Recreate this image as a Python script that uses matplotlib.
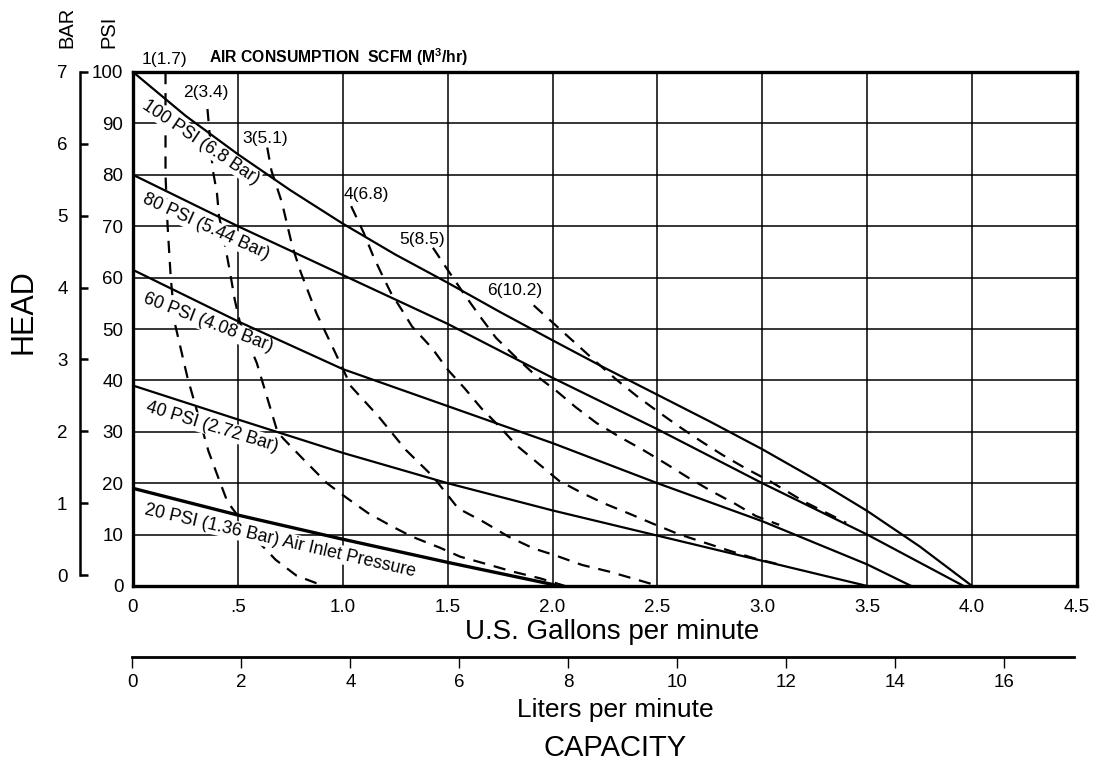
import numpy as np
import matplotlib.pyplot as plt

plt.rcParams['font.family'] = ['Liberation Sans', 'DejaVu Sans']
plt.rcParams['mathtext.fontset'] = 'custom'
plt.rcParams['mathtext.rm'] = 'Liberation Sans'
plt.rcParams['mathtext.bf'] = 'Liberation Sans:bold'

W, H = 1104, 763

# pump curves, gpm vs psi head
gpm_100 = [0, 0.25, 0.5, 0.75, 1.0, 1.25, 1.5, 1.75, 2.0, 2.25, 2.5, 2.75, 3.0, 3.25, 3.5, 3.75, 4.0]
psi_100 = [100, 91.5, 84, 77, 70.5, 64.5, 59, 53.3, 47.8, 42.4, 37.2, 32, 26.6, 20.8, 14.6, 7.7, 0]
gpm_80 = [0, 0.5, 1.0, 1.5, 2.0, 2.5, 3.0, 3.5, 3.96]
psi_80 = [80, 70, 60.5, 51, 40.5, 30.5, 20, 10, 0]
gpm_60 = [0, 0.5, 1.0, 1.5, 2.0, 2.5, 3.0, 3.5, 3.71]
psi_60 = [61.5, 51.5, 42.2, 35, 27.8, 20, 12.6, 4.2, 0]
gpm_40 = [0, 0.5, 1.0, 1.5, 2.0, 2.5, 3.0, 3.5]
psi_40 = [39, 32.4, 25.9, 20, 14.7, 9.8, 4.9, 0]
gpm_20 = [0, 0.5, 1.0, 1.5, 2.0, 2.02]
psi_20 = [19, 13.8, 9.1, 4.6, 0.3, 0]

# air consumption lines
air1_gpm = [0.155, 0.155, 0.165, 0.18, 0.2, 0.22, 0.26, 0.36, 0.41, 0.45, 0.49, 0.57, 0.68, 0.78, 0.91]
air1_psi = [100, 80, 70, 60, 51, 47.5, 40.5, 26.2, 20.7, 16.4, 14.2, 9.8, 5.1, 2.0, 0]
air2_gpm = [0.355, 0.38, 0.40, 0.41, 0.44, 0.46, 0.485, 0.51, 0.59, 0.69, 0.83, 0.925, 1.02, 1.12,
            1.23, 1.33, 1.46, 1.56, 1.70, 1.81, 1.94, 2.06]
air2_psi = [92.8, 81, 76.5, 72, 66, 61.6, 55.7, 51.2, 43.4, 29.8, 23.9, 20, 17.1, 14.2,
            11.7, 9.6, 7.5, 5.7, 4.1, 2.8, 1.5, 0]
air3_gpm = [0.64, 0.66, 0.71, 0.76, 0.80, 0.875, 0.95, 1.04, 1.17, 1.30, 1.43, 1.55, 1.67, 1.79,
            1.91, 2.01, 2.14, 2.27, 2.38, 2.505]
air3_psi = [85.3, 80.8, 74.6, 66, 61, 53, 46.6, 38.8, 33, 26.5, 21.3, 15.1, 12.5, 9.6,
            7.3, 6.0, 4.1, 2.8, 1.5, 0]
air4_gpm = [1.04, 1.10, 1.145, 1.19, 1.23, 1.28, 1.33, 1.425, 1.50, 1.58, 1.66, 1.745, 1.83, 1.93,
            2.03, 2.14, 2.25, 2.37, 2.48, 2.60, 2.72, 2.84, 2.96, 3.1]
air4_psi = [73.9, 68.7, 64.2, 60.3, 57, 53.8, 50.5, 46.3, 42.1, 38.5, 34.6, 31.1, 27.3, 23.9,
            20.5, 18.1, 16.0, 14.0, 12.1, 10.1, 8.5, 6.9, 5.4, 4.0]
air5_gpm = [1.43, 1.5, 1.58, 1.655, 1.73, 1.82, 1.91, 2.02, 2.11, 2.21, 2.32, 2.43, 2.54, 2.65,
            2.76, 2.87, 2.97, 3.08]
air5_psi = [65.8, 61.5, 56.7, 52.4, 48.3, 44.7, 41.3, 37.9, 34.8, 31.7, 29.0, 26.5, 23.8, 21.0,
            18.4, 16.0, 13.6, 11.9]
air6_gpm = [1.91, 2.01, 2.11, 2.21, 2.30, 2.40, 2.50, 2.60, 2.71, 2.81, 2.92, 3.04, 3.2, 3.4]
air6_psi = [54.6, 50.9, 47.2, 43.5, 40.3, 37.0, 34.0, 31.1, 28.1, 25.5, 22.9, 20.3, 16.4, 12.3]

air_labels = ['1(1.7)', '2(3.4)', '3(5.1)', '4(6.8)', '5(8.5)', '6(10.2)']
air_label_gpm = [0.15, 0.345, 0.63, 1.11, 1.38, 1.82]
air_label_psi = [102.4, 96, 87, 76.2, 67.5, 57.4]

curve_labels = ['100 PSI (6.8 Bar)', '80 PSI (5.44 Bar)', '60 PSI (4.08 Bar)',
                '40 PSI (2.72 Bar)', '20 PSI (1.36 Bar) Air Inlet Pressure']
curve_label_gpm = [0.324, 0.346, 0.358, 0.379, 0.701]
curve_label_psi = [86.4, 69.9, 51.2, 31.0, 8.85]
curve_label_rot = [-34, -24.5, -21, -17, -13]

gpm_ticks = [0, 0.5, 1.0, 1.5, 2.0, 2.5, 3.0, 3.5, 4.0, 4.5]
gpm_ticklabels = ['0', '.5', '1.0', '1.5', '2.0', '2.5', '3.0', '3.5', '4.0', '4.5']
psi_ticks = list(range(0, 101, 10))
bar_ticks = list(range(0, 8))
lpm_ticks = list(range(0, 17, 2))

fig = plt.figure(figsize=(W / 100, H / 100), dpi=100)

def fx(px):
    return px / W

def fy(py):
    return 1 - py / H

# main chart
ax = fig.add_axes([fx(133), fy(586), fx(1077) - fx(133), fy(72) - fy(586)])
ax.set_xlim(0, 4.5)
ax.set_ylim(0, 100)
ax.set_xticks(gpm_ticks)
ax.set_xticklabels(gpm_ticklabels)
ax.set_yticks(psi_ticks)
ax.tick_params(length=0, labelsize=13.5, pad=7)
ax.tick_params(axis='x', pad=9)
ax.grid(True, color='black', lw=1.1)
ax.set_axisbelow(True)
for s in ax.spines.values():
    s.set_linewidth(2.4)

solid = [(gpm_100, psi_100, 1.6), (gpm_80, psi_80, 1.6), (gpm_60, psi_60, 1.6),
         (gpm_40, psi_40, 1.6), (gpm_20, psi_20, 2.4)]
for g, p, lw in solid:
    ax.plot(g, p, color='black', lw=lw, zorder=5, solid_capstyle='butt')

dashed = [(air1_gpm, air1_psi), (air2_gpm, air2_psi), (air3_gpm, air3_psi),
          (air4_gpm, air4_psi), (air5_gpm, air5_psi), (air6_gpm, air6_psi)]
for g, p in dashed:
    ax.plot(g, p, color='black', lw=1.6, ls=(0, (5.5, 4)), zorder=3)

for t, x, y in zip(air_labels, air_label_gpm, air_label_psi):
    ax.text(x, y, t, fontsize=12.5, ha='center', va='center', zorder=4, clip_on=False)

for t, x, y, r in zip(curve_labels, curve_label_gpm, curve_label_psi, curve_label_rot):
    ax.text(x, y, t, fontsize=12.8, ha='center', va='center', rotation=r,
            rotation_mode='anchor', zorder=4,
            bbox=dict(facecolor='white', edgecolor='none', pad=0.6))

# bar scale
bx = fig.add_axes([fx(80), fy(575), 0.0001, fy(72) - fy(575)])
bx.set_ylim(0, 7)
bx.set_yticks(bar_ticks)
bx.set_xticks([])
for k in ['top', 'right', 'bottom']:
    bx.spines[k].set_visible(False)
bx.spines['left'].set_linewidth(1.8)
bx.tick_params(axis='y', direction='in', length=6, width=1.8, labelsize=13.5, pad=9)
bx.patch.set_visible(False)

# liters scale
lx = fig.add_axes([fx(132.4), fy(657), fx(1074) - fx(132.4), 0.0001])
lx.set_xlim(0, (1074 - 132.4) / 54.5)
lx.set_xticks(lpm_ticks)
lx.set_yticks([])
for k in ['top', 'right', 'left']:
    lx.spines[k].set_visible(False)
lx.spines['bottom'].set_linewidth(2.0)
lx.tick_params(axis='x', direction='out', length=8, width=1.0, labelsize=13.5, pad=4)
lx.patch.set_visible(False)

fig.text(fx(612), fy(632), 'U.S. Gallons per minute', fontsize=20, ha='center', va='center')
fig.text(fx(615), fy(710), 'Liters per minute', fontsize=19, ha='center', va='center')
fig.text(fx(615), fy(748), 'CAPACITY', fontsize=21, ha='center', va='center')
fig.text(fx(24), fy(312), 'HEAD', fontsize=22, rotation=90, ha='center', va='center')
fig.text(fx(67), fy(27), 'BAR', fontsize=14.5, rotation=90, ha='center', va='center')
fig.text(fx(109), fy(32), 'PSI', fontsize=14.5, rotation=90, ha='center', va='center')
fig.text(fx(209), fy(57), r'AIR CONSUMPTION  SCFM (M$^{\mathbf{3}}$/hr)', fontsize=11.3,
         fontweight='bold', ha='left', va='center')

fig.savefig('out.png', dpi=100)
